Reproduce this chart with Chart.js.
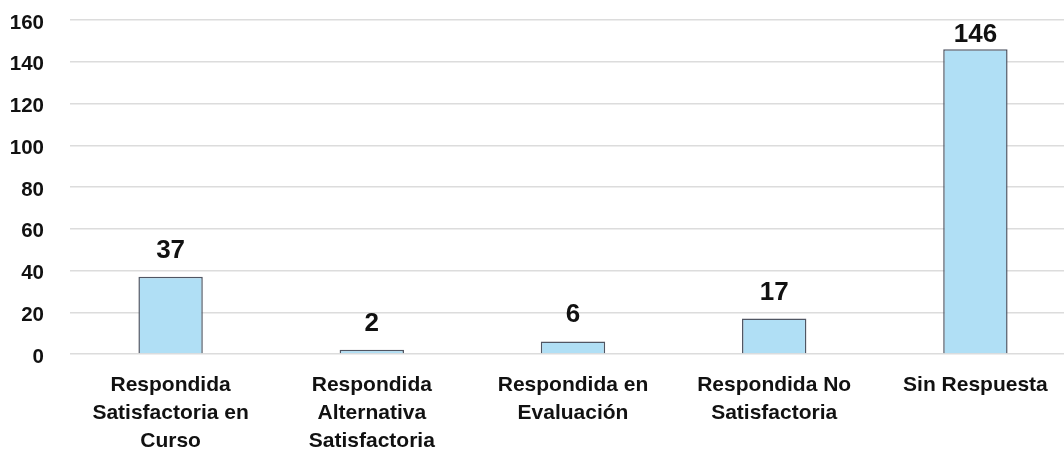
<!DOCTYPE html>
<html>
<head>
<meta charset="utf-8">
<script src="https://cdn.jsdelivr.net/npm/chart.js@4"></script>
<style>
  html, body { margin: 0; padding: 0; background: #fff; overflow: hidden; }
  #wrap { width: 1064px; height: 450px; overflow: hidden; position: relative; }
  #box { width: 1076px; height: 450px; position: absolute; left: 0; top: 0; }
</style>
</head>
<body>
<div id="wrap"><div id="box"><canvas id="c"></canvas></div></div>
<script>
// Categories (multi-line labels) and the count for each one
const categories = [
  ['Respondida', 'Satisfactoria en', 'Curso'],
  ['Respondida', 'Alternativa', 'Satisfactoria'],
  ['Respondida en', 'Evaluación'],
  ['Respondida No', 'Satisfactoria'],
  ['Sin Respuesta']
];
const counts = [37, 2, 6, 17, 146];
const yTicks = [0, 20, 40, 60, 80, 100, 120, 140, 160];

const FONT = '"Liberation Sans", Arial, sans-serif';

// Writes each bar's value above it
const valueLabels = {
  id: 'valueLabels',
  afterDatasetsDraw(chart) {
    const ctx = chart.ctx;
    const meta = chart.getDatasetMeta(0);
    const top = chart.chartArea.top;
    ctx.save();
    ctx.font = 'bold 26px ' + FONT;
    ctx.fillStyle = '#111';
    ctx.textAlign = 'center';
    ctx.textBaseline = 'alphabetic';
    meta.data.forEach((bar, i) => {
      const y = Math.max(bar.y - 19, top + 22);
      ctx.fillText(String(counts[i]), bar.x, y);
    });
    ctx.restore();
  }
};

new Chart(document.getElementById('c'), {
  type: 'bar',
  data: {
    labels: categories,
    datasets: [{
      data: counts,
      backgroundColor: '#b0dff5',
      borderColor: '#505663',
      borderWidth: 1.5,
      barPercentage: 0.32,
      categoryPercentage: 1
    }]
  },
  options: {
    responsive: true,
    maintainAspectRatio: false,
    animation: false,
    layout: { padding: { left: 10, top: 20, right: 0, bottom: 0 } },
    plugins: { legend: { display: false }, tooltip: { enabled: false } },
    scales: {
      x: {
        grid: { display: false, drawTicks: false },
        border: { display: false },
        ticks: {
          color: '#111',
          font: { family: FONT, size: 21, weight: 'bold', lineHeight: 1.33 },
          padding: 17,
          maxRotation: 0,
          autoSkip: false
        },
        afterFit(axis) {
          axis.height = 96;
          axis.paddingLeft = 0;
          axis.paddingRight = 0;
        }
      },
      y: {
        min: yTicks[0],
        max: yTicks[yTicks.length - 1],
        afterBuildTicks(axis) { axis.ticks = yTicks.map(v => ({ value: v })); },
        grid: { color: '#dcdcdc', lineWidth: 1.5, drawTicks: false },
        border: { display: false },
        ticks: {
          color: '#111',
          font: { family: FONT, size: 20.5, weight: 'bold' },
          padding: 26,
          labelOffset: 3
        },
        afterFit(axis) {
          axis.width = 60;
          axis.paddingTop = 0;
          axis.paddingBottom = 0;
        }
      }
    }
  },
  plugins: [valueLabels]
});
</script>
</body>
</html>
